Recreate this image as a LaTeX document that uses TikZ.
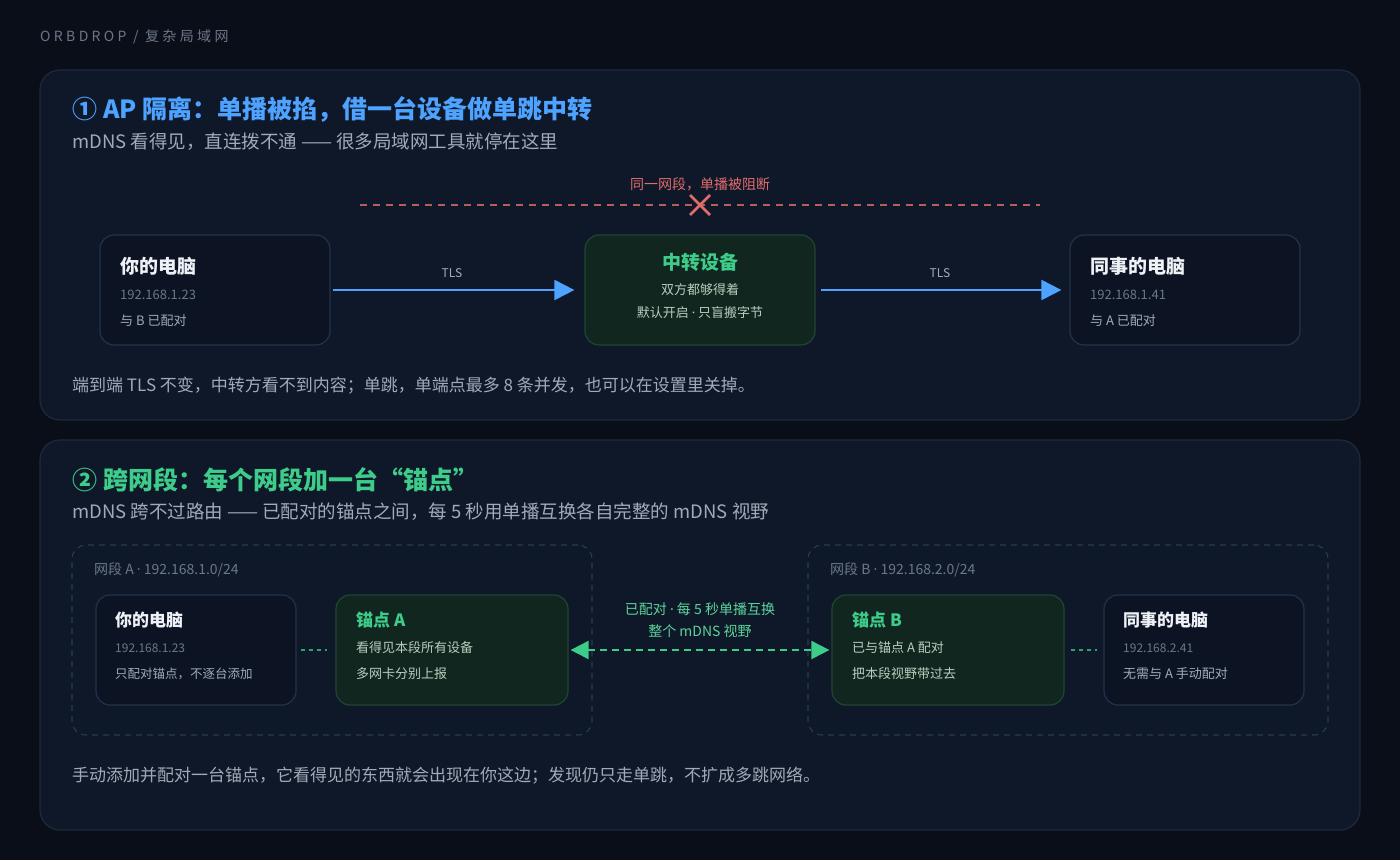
\documentclass[tikz,border=0pt]{standalone}
\usepackage{fontspec}
\setmainfont{Noto Sans CJK SC}
\newfontfamily\spacedfont[LetterSpace=24]{Noto Sans CJK SC}
\newfontfamily\dotfont{Noto Sans}
\usetikzlibrary{arrows.meta}
\newcommand\fsz[1]{\fontsize{#1}{#1}\selectfont}
\newcommand\mdot{{\dotfont ·}}
\definecolor{bg}{HTML}{0A0E18}
\definecolor{panel}{HTML}{0F1828}
\definecolor{panelline}{HTML}{1E2A3C}
\definecolor{boxfill}{HTML}{0C1424}
\definecolor{boxline}{HTML}{23324A}
\definecolor{gfill}{HTML}{11261E}
\definecolor{gline}{HTML}{1F4634}
\definecolor{blueT}{HTML}{4DA3FF}
\definecolor{greenT}{HTML}{3DCC8A}
\definecolor{redT}{HTML}{E06C6C}
\definecolor{redL}{HTML}{B85C5C}
\definecolor{muted}{HTML}{6B7789}
\definecolor{sub}{HTML}{A0AAB8}
\definecolor{white1}{HTML}{EEF2F7}
\definecolor{gtext}{HTML}{B8CFC0}
\definecolor{segline}{HTML}{2A3A50}
\tikzset{
  panelbox/.style={draw=panelline, fill=panel, line width=1.2pt, rounded corners=20pt},
  nbox/.style={draw=boxline, fill=boxfill, line width=1.2pt, rounded corners=14pt, inner sep=0pt},
  gbox/.style={draw=gline, fill=gfill, line width=1.2pt, rounded corners=14pt, inner sep=0pt},
  segbox/.style={draw=segline, dashed, dash pattern=on 6pt off 5pt, line width=1.1pt, rounded corners=14pt, inner sep=0pt},
  txt/.style={inner sep=0pt, anchor=west},
  ctxt/.style={inner sep=0pt, anchor=center},
  ttl/.style={txt, text=white1, font=\fsz{19}\bfseries},
  ip/.style={txt, text=muted, font=\fsz{13}},
  info/.style={txt, text=sub, font=\fsz{13}},
  ginfo/.style={txt, text=gtext, font=\fsz{13}},
  blueconn/.style={draw=blueT, line width=2pt, -{Triangle[length=20pt,width=20pt]}},
  greenconn/.style={draw=greenT, line width=2pt, dash pattern=on 7pt off 5pt, {Triangle[length=18pt,width=18pt]}-{Triangle[length=18pt,width=18pt]}},
  dotconn/.style={draw=greenT!80!black, line width=2pt, dash pattern=on 4pt off 4pt},
  redconn/.style={draw=redL, line width=1.6pt, dash pattern=on 7pt off 6pt},
}
\begin{document}
\begin{tikzpicture}[x=1pt, y=-1pt]
\fill[bg] (0,0) rectangle (1400,860);
\useasboundingbox (0,0) rectangle (1400,860);

\node[txt, text=muted, font=\spacedfont\fsz{14}] (hdr) at (40,37) {ORBDROP / 复杂局域网};

% ---------- Panel 1 ----------
\node[panelbox, minimum width=1320pt, minimum height=350pt, inner sep=0pt] (p1) at (700,245) {};
\node[txt, text=blueT, font=\fsz{25}\bfseries] (t1) at (72,109) {①\hspace{6pt}AP 隔离：单播被掐，借一台设备做单跳中转};
\node[txt, text=sub, font=\fsz{18.5}] (s1) at (72,142) {mDNS 看得见，直连拨不通 —— 很多局域网工具就停在这里};

\coordinate (rl) at (360,205);
\coordinate (rr) at (1040,205);
\coordinate (rx) at (700,205);
\draw[redconn] (rl) -- (rr);
\draw[redT, line width=2.6pt] ([shift={(-10,-10)}]rx) -- ([shift={(10,10)}]rx);
\draw[redT, line width=2.6pt] ([shift={(-10,10)}]rx) -- ([shift={(10,-10)}]rx);
\node[ctxt, text=redT, font=\fsz{14}] (rlab) at (700,184) {同一网段，单播被阻断};

\node[nbox, minimum width=230pt, minimum height=110pt] (pc1) at (215,290) {};
\node[ttl] at (120,266) {你的电脑};
\node[ip] at (120,295) {192.168.1.23};
\node[info] at (120,321) {与 B 已配对};

\node[gbox, minimum width=230pt, minimum height=110pt] (relay) at (700,290) {};
\node[ctxt, text=greenT, font=\fsz{19}\bfseries] at (700,262) {中转设备};
\node[ctxt, text=gtext, font=\fsz{13}] at (700,290) {双方都够得着};
\node[ctxt, text=gtext, font=\fsz{13}] at (700,313) {默认开启 \mdot{} 只盲搬字节};

\node[nbox, minimum width=230pt, minimum height=110pt] (pc2) at (1185,290) {};
\node[ttl] at (1090,266) {同事的电脑};
\node[ip] at (1090,295) {192.168.1.41};
\node[info] at (1090,321) {与 A 已配对};

\draw[blueconn, shorten <=2pt, shorten >=10pt] (pc1.east) -- (relay.west);
\draw[blueconn, shorten <=5pt, shorten >=8pt] (relay.east) -- (pc2.west);
\node[ctxt, text=sub, font=\fsz{12}] at (452,273) {TLS};
\node[ctxt, text=sub, font=\fsz{12}] at (940,273) {TLS};

\node[txt, text=sub, font=\fsz{17}] (n1) at (72,386) {端到端 TLS 不变，中转方看不到内容；单跳，单端点最多 8 条并发，也可以在设置里关掉。};

% ---------- Panel 2 ----------
\node[panelbox, minimum width=1320pt, minimum height=390pt, inner sep=0pt] (p2) at (700,635) {};
\node[txt, text=greenT, font=\fsz{25}\bfseries] (t2) at (72,480) {②\hspace{6pt}跨网段：每个网段加一台“锚点”};
\node[txt, text=sub, font=\fsz{18.5}] (s2) at (72,512) {mDNS 跨不过路由 —— 已配对的锚点之间，每 5 秒用单播互换各自完整的 mDNS 视野};

\node[segbox, minimum width=520pt, minimum height=190pt] (segA) at (332,640) {};
\node[txt, text=muted, font=\fsz{14}] at (94,570) {网段 A \mdot{} 192.168.1.0/24};
\node[segbox, minimum width=520pt, minimum height=190pt] (segB) at (1068,640) {};
\node[txt, text=muted, font=\fsz{14}] at (830,570) {网段 B \mdot{} 192.168.2.0/24};

\node[nbox, minimum width=200pt, minimum height=110pt] (pcA) at (196,650) {};
\node[ttl, font=\fsz{17}\bfseries] at (115,620) {你的电脑};
\node[ip, font=\fsz{12}] at (115,648) {192.168.1.23};
\node[info, font=\fsz{12.5}] at (115,674) {只配对锚点，不逐台添加};

\node[gbox, minimum width=232pt, minimum height=110pt] (ancA) at (452,650) {};
\node[txt, text=greenT, font=\fsz{17}\bfseries] at (356,620) {锚点 A};
\node[ginfo] at (356,648) {看得见本段所有设备};
\node[ginfo] at (356,674) {多网卡分别上报};

\node[gbox, minimum width=232pt, minimum height=110pt] (ancB) at (948,650) {};
\node[txt, text=greenT, font=\fsz{17}\bfseries] at (852,620) {锚点 B};
\node[ginfo] at (852,648) {已与锚点 A 配对};
\node[ginfo] at (852,674) {把本段视野带过去};

\node[nbox, minimum width=200pt, minimum height=110pt] (pcB) at (1204,650) {};
\node[ttl, font=\fsz{17}\bfseries] at (1123,620) {同事的电脑};
\node[ip, font=\fsz{12}] at (1123,648) {192.168.2.41};
\node[info] at (1123,674) {无需与 A 手动配对};

\draw[dotconn, shorten <=4pt, shorten >=8pt] (pcA.east) -- (ancA.west);
\draw[dotconn, shorten <=6pt, shorten >=6pt] (ancB.east) -- (pcB.west);
\draw[greenconn, shorten <=2pt, shorten >=2pt] (ancA.east) -- (ancB.west);
\node[ctxt, text=greenT!85!white, font=\fsz{14}] at (700,609) {已配对 \mdot{} 每 5 秒单播互换};
\node[ctxt, text=greenT!85!white, font=\fsz{14}] at (700,631) {整个 mDNS 视野};

\node[txt, text=sub, font=\fsz{17}] (n2) at (72,776) {手动添加并配对一台锚点，它看得见的东西就会出现在你这边；发现仍只走单跳，不扩成多跳网络。};
\end{tikzpicture}
\end{document}
